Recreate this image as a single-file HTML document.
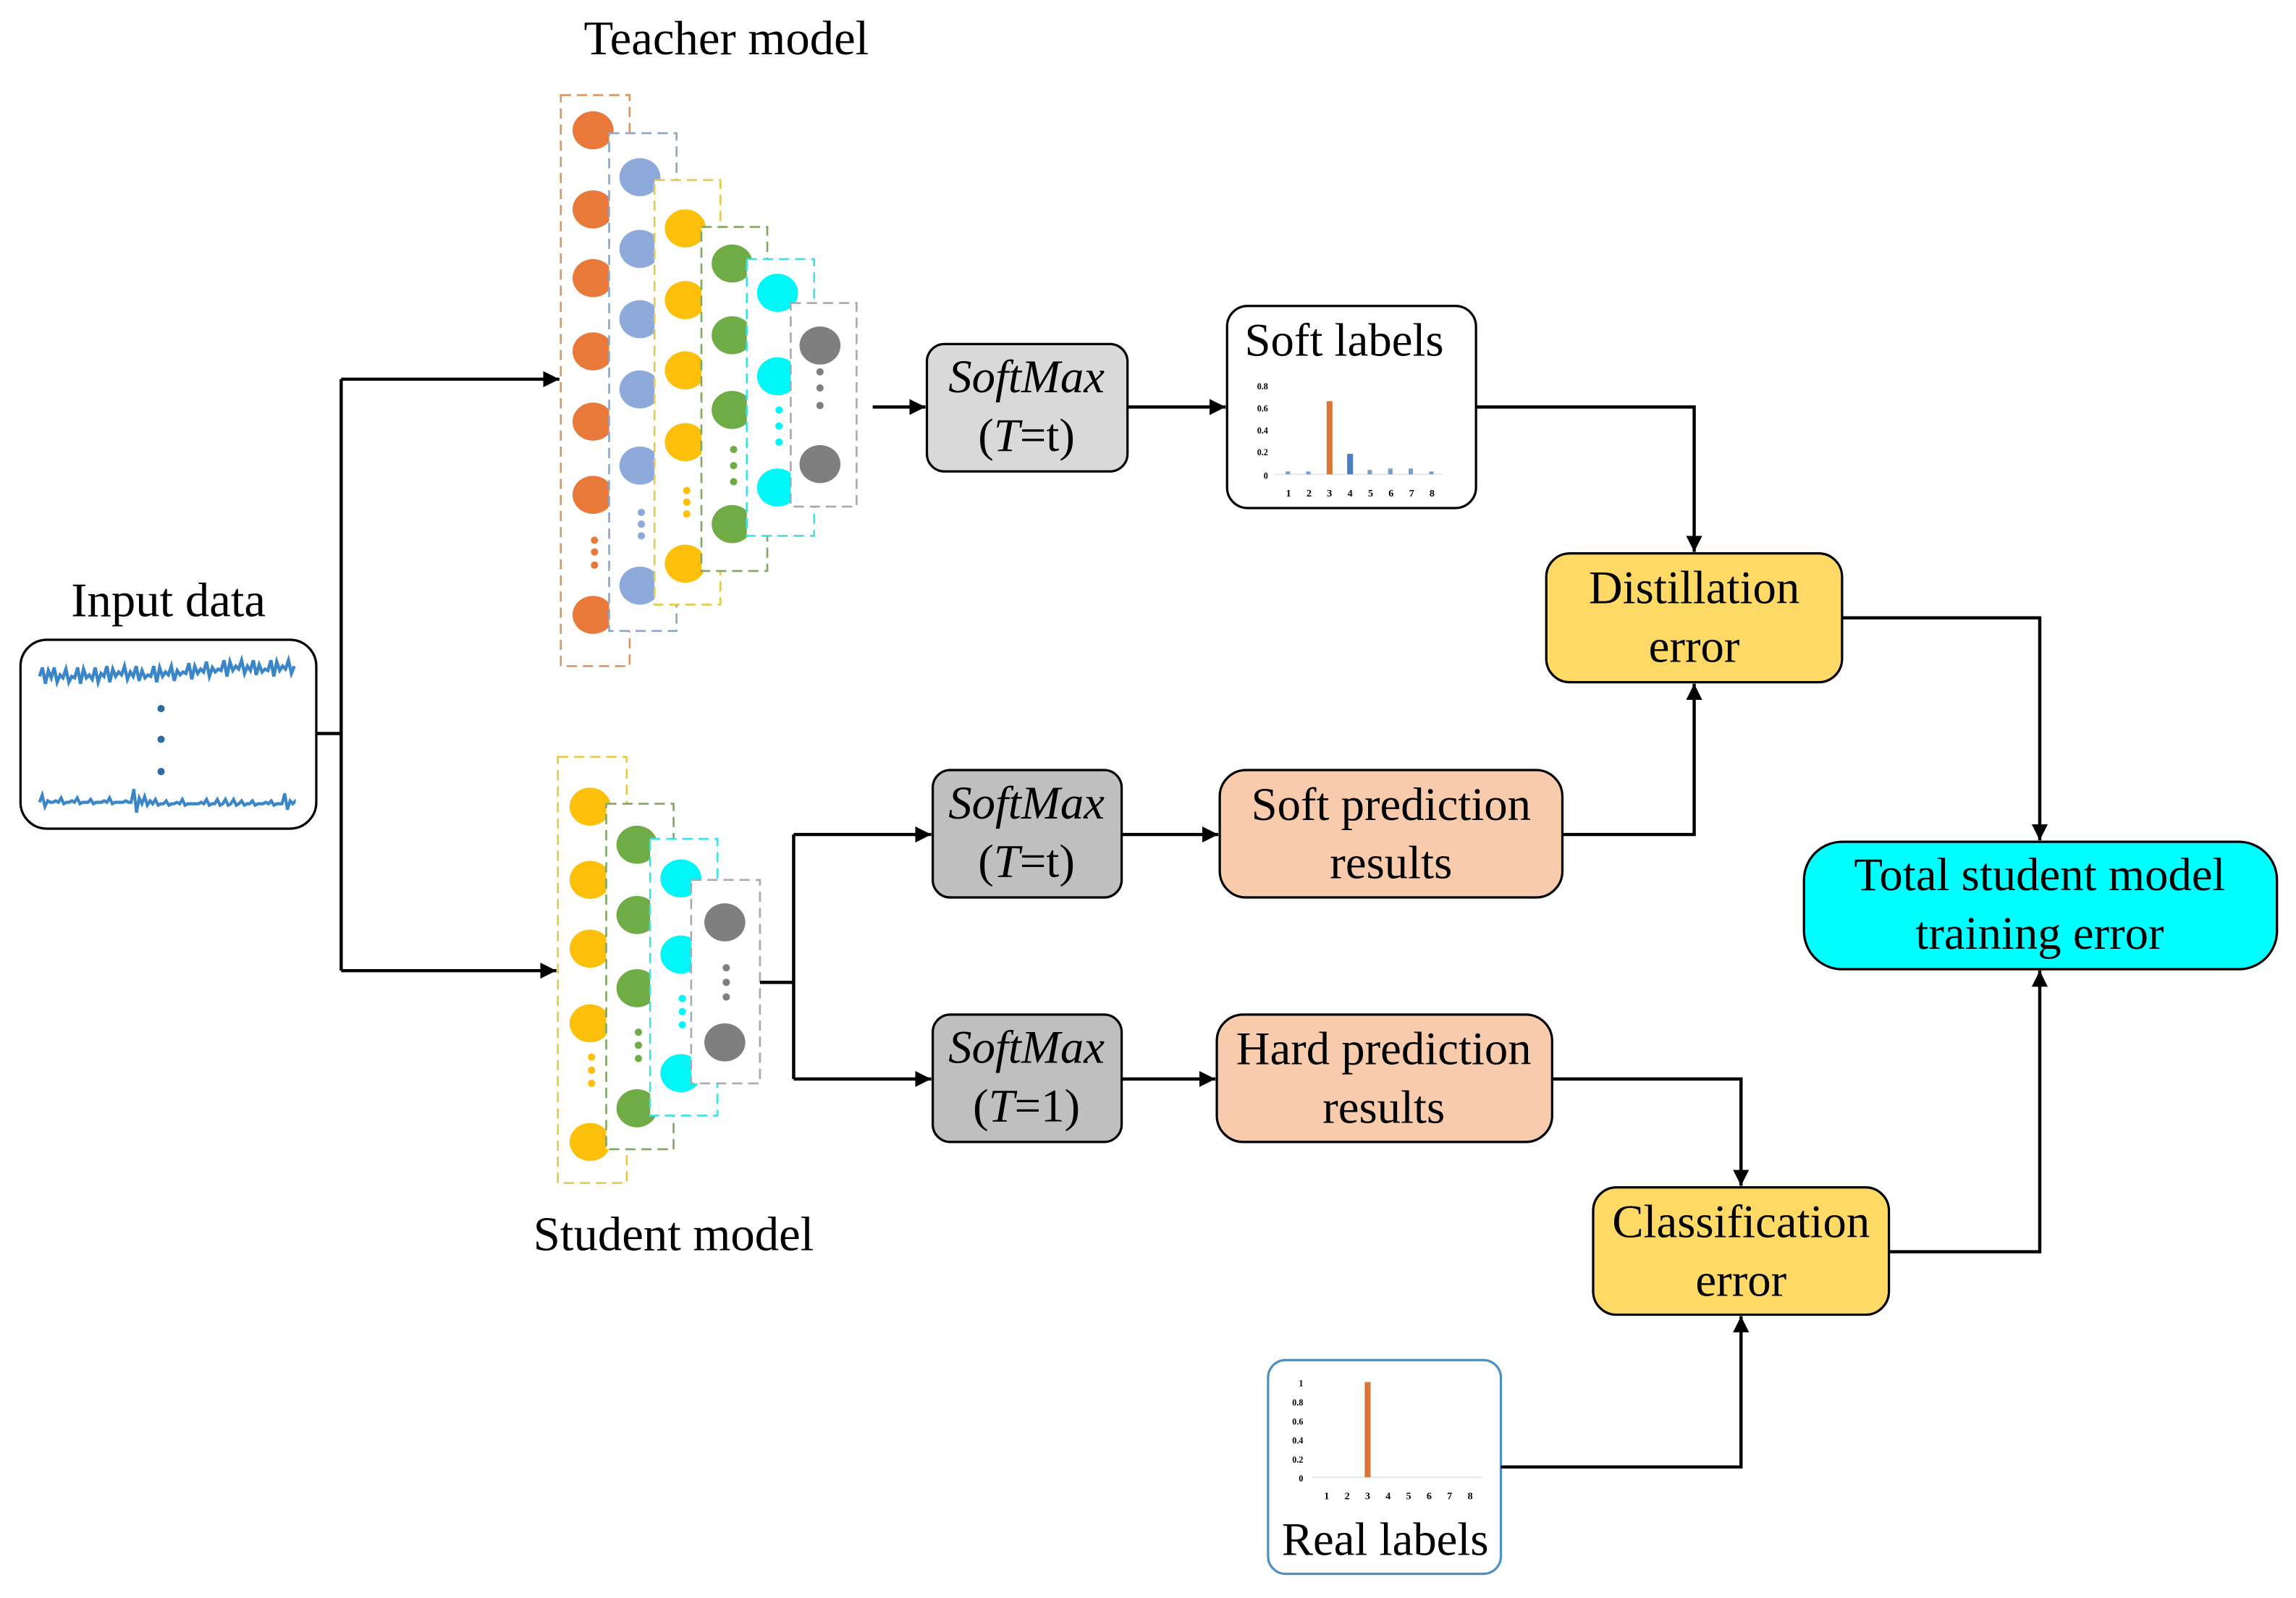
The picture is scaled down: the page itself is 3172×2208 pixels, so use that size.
<!DOCTYPE html>
<html><head><meta charset="utf-8"><style>
html,body{margin:0;padding:0;background:#fff;}
svg{display:block;}
text{font-family:"Liberation Serif",serif;fill:#000;}
</style></head><body>
<svg width="3172" height="2208" viewBox="0 0 1568 1091.5" preserveAspectRatio="none" xmlns="http://www.w3.org/2000/svg">
<defs>
<marker id="a" viewBox="0 0 10 10" refX="10" refY="5" markerWidth="5" markerHeight="5" orient="auto" markerUnits="strokeWidth"><path d="M0,0 L10,5 L0,10 z" fill="#000"/></marker>
<clipPath id="cw"><rect x="26" y="440" width="176" height="120"/></clipPath>
</defs>
<rect width="1568" height="1092" fill="#fff"/>

<text x="496" y="37" font-size="33" text-anchor="middle">Teacher model</text>
<text x="115" y="421" font-size="33" text-anchor="middle">Input data</text>
<text x="460" y="854" font-size="33" text-anchor="middle">Student model</text>

<rect x="14" y="437" width="202" height="129" rx="18" fill="#fff" stroke="#000" stroke-width="1.6"/>
<g clip-path="url(#cw)">
<path d="M27 462 l2 -6 l2 11 l2 -9 l2 5 l2 -7 l2 10 l2 -5 l2 2 l2 -6 l2 9 l2 -4 l2 1 l2 -7 l2 11 l2 -10 l2 6 l2 -2 l2 3 l2 -8 l2 10 l2 -6 l2 2 l2 -7 l2 11 l2 -9 l2 5 l2 -3 l2 2 l2 -6 l2 9 l2 -5 l2 3 l2 -7 l2 10 l2 -7 l2 5 l2 -2 l2 1 l2 -7 l2 11 l2 -10 l2 6 l2 -3 l2 2 l2 -6 l2 10 l2 -7 l2 3 l2 -2 l2 1 l2 -7 l2 11 l2 -9 l2 5 l2 -3 l2 2 l2 -7 l2 10 l2 -6 l2 3 l2 -2 l2 1 l2 -7 l2 11 l2 -10 l2 6 l2 -3 l2 2 l2 -6 l2 9 l2 -5 l2 3 l2 -7 l2 10 l2 -7 l2 5 l2 -2 l2 1 l2 -7 l2 11 l2 -10 l2 6 l2 -3 l2 2 l2 -6 l2 9 l2 -5" fill="none" stroke="#3a86c8" stroke-width="2.2"/>
<path transform="translate(27 0) scale(0.92 1) translate(-27 0)" d="M27 548 l2 -5 l2 8 l2 -4 l2 1 l2 0 l2 -1 l2 1 l2 -3 l2 4 l2 -1 l2 0 l2 -1 l2 1 l2 -3 l2 4 l2 -1 l2 0 l2 0 l2 -2 l2 3 l2 -1 l2 0 l2 0 l2 -1 l2 1 l2 -3 l2 4 l2 -1 l2 0 l2 0 l2 0 l2 -1 l2 1 l2 0 l2 -9 l2 16 l2 -10 l2 4 l2 -5 l2 6 l2 -3 l2 2 l2 -3 l2 4 l2 -1 l2 0 l2 -2 l2 3 l2 -1 l2 0 l2 -1 l2 1 l2 -3 l2 4 l2 -1 l2 0 l2 0 l2 0 l2 0 l2 -1 l2 1 l2 -3 l2 4 l2 -1 l2 0 l2 -3 l2 4 l2 -1 l2 -3 l2 4 l2 -1 l2 -3 l2 4 l2 -1 l2 -2 l2 3 l2 -1 l2 0 l2 -2 l2 3 l2 -1 l2 0 l2 0 l2 -1 l2 1 l2 -2 l2 3 l2 -1 l2 0 l2 0 l2 -7 l2 11 l2 -6 l2 2 l2 -2 l2 1" fill="none" stroke="#3a86c8" stroke-width="2.2"/>
</g>
<circle cx="110" cy="484" r="2.5" fill="#2e6da4"/>
<circle cx="110" cy="505" r="2.5" fill="#2e6da4"/>
<circle cx="110" cy="527" r="2.5" fill="#2e6da4"/>

<rect x="383" y="65" width="47" height="390" fill="#fff" stroke="#d9955f" stroke-width="1.3" stroke-dasharray="7,4"/>
<g fill="#e8793a"><ellipse cx="405" cy="89" rx="14" ry="13"/><ellipse cx="405" cy="143" rx="14" ry="13"/><ellipse cx="405" cy="190" rx="14" ry="13"/><ellipse cx="405" cy="240" rx="14" ry="13"/><ellipse cx="405" cy="288" rx="14" ry="13"/><ellipse cx="405" cy="338" rx="14" ry="13"/><ellipse cx="405" cy="420" rx="14" ry="13"/><circle cx="406" cy="369" r="2.5"/><circle cx="406" cy="377" r="2.5"/><circle cx="406" cy="386" r="2.5"/></g>
<rect x="416" y="91" width="46" height="340" fill="#fff" stroke="#8fa5c8" stroke-width="1.3" stroke-dasharray="7,4"/>
<g fill="#8eaadb"><ellipse cx="437" cy="121" rx="14" ry="13"/><ellipse cx="437" cy="170" rx="14" ry="13"/><ellipse cx="437" cy="218" rx="14" ry="13"/><ellipse cx="437" cy="266" rx="14" ry="13"/><ellipse cx="437" cy="318" rx="14" ry="13"/><ellipse cx="437" cy="400" rx="14" ry="13"/><circle cx="438" cy="350" r="2.5"/><circle cx="438" cy="358" r="2.5"/><circle cx="438" cy="366" r="2.5"/></g>
<rect x="447" y="123" width="45" height="290" fill="#fff" stroke="#e8c84a" stroke-width="1.3" stroke-dasharray="7,4"/>
<g fill="#fcbf0a"><ellipse cx="468" cy="156" rx="14" ry="13"/><ellipse cx="468" cy="205" rx="14" ry="13"/><ellipse cx="468" cy="253" rx="14" ry="13"/><ellipse cx="468" cy="302" rx="14" ry="13"/><ellipse cx="468" cy="385" rx="14" ry="13"/><circle cx="469" cy="335" r="2.5"/><circle cx="469" cy="343" r="2.5"/><circle cx="469" cy="351" r="2.5"/></g>
<rect x="479" y="155" width="45" height="235" fill="#fff" stroke="#7fa860" stroke-width="1.3" stroke-dasharray="7,4"/>
<g fill="#6fac46"><ellipse cx="500" cy="180" rx="14" ry="13"/><ellipse cx="500" cy="229" rx="14" ry="13"/><ellipse cx="500" cy="280" rx="14" ry="13"/><ellipse cx="500" cy="358" rx="14" ry="13"/><circle cx="501" cy="307" r="2.5"/><circle cx="501" cy="318" r="2.5"/><circle cx="501" cy="329" r="2.5"/></g>
<rect x="510" y="177" width="46" height="189" fill="#fff" stroke="#3fe0e8" stroke-width="1.3" stroke-dasharray="7,4"/>
<g fill="#00f7f7"><ellipse cx="531" cy="200" rx="14" ry="13"/><ellipse cx="531" cy="257" rx="14" ry="13"/><ellipse cx="531" cy="333" rx="14" ry="13"/><circle cx="532" cy="280" r="2.5"/><circle cx="532" cy="291" r="2.5"/><circle cx="532" cy="302" r="2.5"/></g>
<rect x="540" y="207" width="45" height="139" fill="#fff" stroke="#aaa" stroke-width="1.3" stroke-dasharray="7,4"/>
<g fill="#7f7f7f"><ellipse cx="560" cy="236" rx="14" ry="13"/><ellipse cx="560" cy="317" rx="14" ry="13"/><circle cx="560" cy="254" r="2.5"/><circle cx="560" cy="265" r="2.5"/><circle cx="560" cy="277" r="2.5"/></g>

<rect x="381" y="517" width="47" height="291" fill="#fff" stroke="#e8c84a" stroke-width="1.3" stroke-dasharray="7,4"/>
<g fill="#fcbf0a"><ellipse cx="403" cy="551" rx="14" ry="13"/><ellipse cx="403" cy="601" rx="14" ry="13"/><ellipse cx="403" cy="648" rx="14" ry="13"/><ellipse cx="403" cy="699" rx="14" ry="13"/><ellipse cx="403" cy="780" rx="14" ry="13"/><circle cx="404" cy="722" r="2.5"/><circle cx="404" cy="731" r="2.5"/><circle cx="404" cy="740" r="2.5"/></g>
<rect x="414" y="549" width="46" height="236" fill="#fff" stroke="#7fa860" stroke-width="1.3" stroke-dasharray="7,4"/>
<g fill="#6fac46"><ellipse cx="435" cy="577" rx="14" ry="13"/><ellipse cx="435" cy="625" rx="14" ry="13"/><ellipse cx="435" cy="675" rx="14" ry="13"/><ellipse cx="435" cy="757" rx="14" ry="13"/><circle cx="436" cy="705" r="2.5"/><circle cx="436" cy="714" r="2.5"/><circle cx="436" cy="723" r="2.5"/></g>
<rect x="444" y="573" width="46" height="189" fill="#fff" stroke="#3fe0e8" stroke-width="1.3" stroke-dasharray="7,4"/>
<g fill="#00f7f7"><ellipse cx="465" cy="600" rx="14" ry="13"/><ellipse cx="465" cy="652" rx="14" ry="13"/><ellipse cx="465" cy="733" rx="14" ry="13"/><circle cx="466" cy="682" r="2.5"/><circle cx="466" cy="691" r="2.5"/><circle cx="466" cy="700" r="2.5"/></g>
<rect x="472" y="601" width="47" height="139" fill="#fff" stroke="#aaa" stroke-width="1.3" stroke-dasharray="7,4"/>
<g fill="#7f7f7f"><ellipse cx="495" cy="630" rx="14" ry="13"/><ellipse cx="495" cy="712" rx="14" ry="13"/><circle cx="496" cy="661" r="2.5"/><circle cx="496" cy="671" r="2.5"/><circle cx="496" cy="681" r="2.5"/></g>

<g stroke="#000" stroke-width="1.6">
<rect x="633" y="235" width="137" height="87" rx="12" fill="#d9d9d9"/>
<rect x="838" y="209" width="170" height="138" rx="14" fill="#fff"/>
<rect x="1056" y="378" width="202" height="88" rx="16" fill="#ffd966"/>
<rect x="637" y="526" width="129" height="87" rx="12" fill="#bfbfbf"/>
<rect x="637" y="693" width="129" height="87" rx="12" fill="#bfbfbf"/>
<rect x="833" y="526" width="234" height="87" rx="18" fill="#f8cbad"/>
<rect x="831" y="693" width="229" height="87" rx="18" fill="#f8cbad"/>
<rect x="1232" y="575" width="323" height="87" rx="26" fill="#00ffff"/>
<rect x="1088" y="811" width="202" height="87" rx="16" fill="#ffd966"/>
</g>
<rect x="866" y="929" width="159" height="146" rx="12" fill="#fff" stroke="#4f8fc0" stroke-width="1.6"/>

<g font-size="32" text-anchor="middle">
<text x="701" y="268"><tspan font-style="italic">SoftMax</tspan></text>
<text x="701" y="308">(<tspan font-style="italic">T</tspan>=t)</text>
<text x="701" y="559"><tspan font-style="italic">SoftMax</tspan></text>
<text x="701" y="599">(<tspan font-style="italic">T</tspan>=t)</text>
<text x="701" y="726"><tspan font-style="italic">SoftMax</tspan></text>
<text x="701" y="766">(<tspan font-style="italic">T</tspan>=1)</text>
<text x="918" y="243">Soft labels</text>
<text x="1157" y="412">Distillation</text>
<text x="1157" y="452">error</text>
<text x="950" y="560">Soft prediction</text>
<text x="950" y="600">results</text>
<text x="945" y="727">Hard prediction</text>
<text x="945" y="767">results</text>
<text x="1393" y="608">Total student model</text>
<text x="1393" y="648">training error</text>
<text x="1189" y="845">Classification</text>
<text x="1189" y="885">error</text>
<text x="946" y="1062">Real labels</text>
</g>

<g font-size="6" font-weight="bold" fill="#444" text-anchor="end">
<text x="866" y="266">0.8</text><text x="866" y="281">0.6</text><text x="866" y="296">0.4</text><text x="866" y="311">0.2</text><text x="866" y="327">0</text>
</g>
<line x1="870" y1="324" x2="985" y2="324" stroke="#e0e6f0" stroke-width="1"/>
<rect x="906" y="274" width="4" height="50" fill="#d9773a"/>
<rect x="920" y="310" width="4" height="14" fill="#4a7fbf"/>
<g fill="#7a9cc6"><rect x="878" y="322" width="3" height="2"/><rect x="892" y="322" width="3" height="2"/><rect x="934" y="321" width="3" height="3"/><rect x="948" y="320" width="3" height="4"/><rect x="962" y="320" width="3" height="4"/><rect x="976" y="322" width="3" height="2"/></g>
<g font-size="7" font-weight="bold" fill="#444" text-anchor="middle">
<text x="880" y="339">1</text><text x="894" y="339">2</text><text x="908" y="339">3</text><text x="922" y="339">4</text><text x="936" y="339">5</text><text x="950" y="339">6</text><text x="964" y="339">7</text><text x="978" y="339">8</text>
</g>

<g font-size="6" font-weight="bold" fill="#444" text-anchor="end">
<text x="890" y="947">1</text><text x="890" y="960">0.8</text><text x="890" y="973">0.6</text><text x="890" y="986">0.4</text><text x="890" y="999">0.2</text><text x="890" y="1012">0</text>
</g>
<line x1="896" y1="1009" x2="1012" y2="1009" stroke="#e0e6f0" stroke-width="1"/>
<rect x="932" y="944" width="4" height="65" fill="#d9773a"/>
<g font-size="7" font-weight="bold" fill="#444" text-anchor="middle">
<text x="906" y="1024">1</text><text x="920" y="1024">2</text><text x="934" y="1024">3</text><text x="948" y="1024">4</text><text x="962" y="1024">5</text><text x="976" y="1024">6</text><text x="990" y="1024">7</text><text x="1004" y="1024">8</text>
</g>

<g fill="none" stroke="#000" stroke-width="2.2">
<path d="M216 501 H233"/>
<path d="M233 259 V663"/>
<path d="M233 259 H382" marker-end="url(#a)"/>
<path d="M233 663 H380" marker-end="url(#a)"/>
<path d="M596 278 H632" marker-end="url(#a)"/>
<path d="M770 278 H837" marker-end="url(#a)"/>
<path d="M1008 278 H1157 V377" marker-end="url(#a)"/>
<path d="M1067 570 H1157 V467" marker-end="url(#a)"/>
<path d="M1258 422 H1393 V574" marker-end="url(#a)"/>
<path d="M519 671 H542"/>
<path d="M542 570 V737"/>
<path d="M542 570 H636" marker-end="url(#a)"/>
<path d="M542 737 H636" marker-end="url(#a)"/>
<path d="M766 570 H832" marker-end="url(#a)"/>
<path d="M766 737 H830" marker-end="url(#a)"/>
<path d="M1060 737 H1189 V810" marker-end="url(#a)"/>
<path d="M1025 1002 H1189 V899" marker-end="url(#a)"/>
<path d="M1290 855 H1393 V663" marker-end="url(#a)"/>
</g>
</svg>
</body></html>
